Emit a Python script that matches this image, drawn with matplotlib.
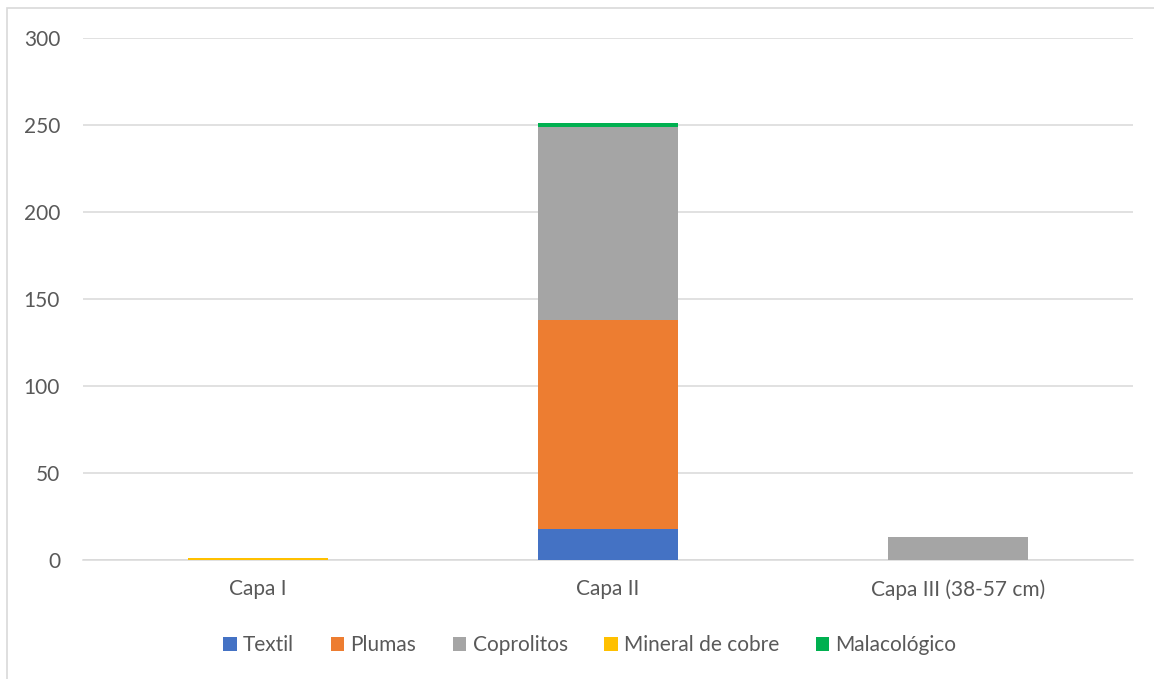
import matplotlib
matplotlib.use("Agg")
import matplotlib.pyplot as plt
from matplotlib.patches import Rectangle
import numpy as np

plt.rcParams['font.family'] = ['Lato', 'DejaVu Sans']

categories = ["Capa I", "Capa II", "Capa III (38-57 cm)"]
series_names = ["Textil", "Plumas", "Coprolitos", "Mineral de cobre", "Malacológico"]
textil = [0, 18, 0]
plumas = [0, 120, 0]
coprolitos = [0, 111, 13]
mineral_cobre = [1, 0, 0]
malacologico = [0, 2, 0]
colors = ["#4472C4", "#ED7D31", "#A5A5A5", "#FFC000", "#00B050"]
yticks = [0, 50, 100, 150, 200, 250, 300]

W, H = 1154, 679
fig = plt.figure(figsize=(W / 100, H / 100), dpi=100)
ax = fig.add_axes([83 / W, 1 - 560 / H, 1050 / W, 522 / H])

# chart frame (top and left edges visible)
fig.add_artist(Rectangle((7 / W, -0.1), 1.2, 1 - 8 / H + 0.1, transform=fig.transFigure,
                         fill=False, edgecolor="#D9D9D9", linewidth=1.2))

x = np.arange(len(categories))
bottom = np.zeros(len(categories))
for name, vals, c in zip(series_names, [textil, plumas, coprolitos, mineral_cobre, malacologico], colors):
    ax.bar(x, vals, 0.4, bottom=bottom, color=c, label=name, zorder=3)
    bottom += np.array(vals)

ax.set_xlim(-0.5, len(categories) - 0.5)
ax.set_ylim(0, 300)
ax.set_yticks(yticks)
ax.set_xticks(x)
ax.set_xticklabels(categories)
ax.grid(axis="y", color="#D9D9D9", linewidth=1.1, zorder=0)
for s in ["top", "right", "left"]:
    ax.spines[s].set_visible(False)
ax.spines["bottom"].set_color("#D9D9D9")
ax.spines["bottom"].set_linewidth(1.1)
ax.tick_params(axis="both", length=0, colors="#595959", labelsize=15)
ax.tick_params(axis="y", pad=16.5)
ax.tick_params(axis="x", pad=14)

leg = fig.legend(loc="center", bbox_to_anchor=(590 / W, 1 - 645 / H), ncol=5, frameon=False,
                 fontsize=15, handlelength=0.65, handleheight=0.65, handletextpad=0.3,
                 columnspacing=1.75)
for t in leg.get_texts():
    t.set_color("#595959")

fig.savefig("out.png", dpi=100)
